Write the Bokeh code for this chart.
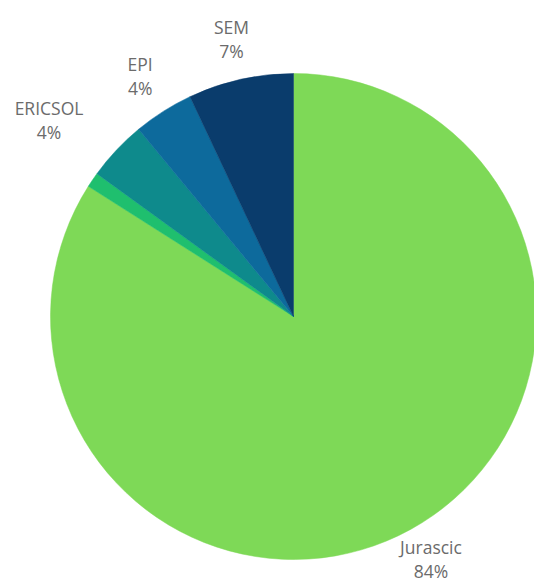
import math
from bokeh.plotting import figure
from bokeh.models import Range1d, ColumnDataSource
from bokeh.core.properties import value
from bokeh.embed import file_html
from bokeh.resources import INLINE

# Data (clockwise from 12 o'clock)
categories = ["Jurascic", "", "ERICSOL", "EPI", "SEM"]
shares = [84, 1, 4, 4, 7]
pct_labels = ["84%", "", "4%", "4%", "7%"]
colors = ["#7ed957", "#1fbf6e", "#0e8a8c", "#0d6a9c", "#0a3c6c"]

W, H = 534, 588
CX, CY = 293, H - 316
R = 243
LABEL_R = 275
# pixel nudges for label placement (dx, dy in screen px, +dy = up)
nudges = [(5, -2), (0, 0), (-44, 8), (-6, 8), (-2, 9)]

total = float(sum(shares))
starts, ends, lx, ly_name, ly_pct, names, pcts = [], [], [], [], [], [], []
cum = 0.0
for cat, v, pl, (ndx, ndy) in zip(categories, shares, pct_labels, nudges):
    a0 = math.pi / 2 - cum / total * 2 * math.pi
    cum += v
    a1 = math.pi / 2 - cum / total * 2 * math.pi
    starts.append(a0)
    ends.append(a1)
    if cat:
        mid = (a0 + a1) / 2
        x = CX + LABEL_R * math.cos(mid) + ndx
        y = CY + LABEL_R * math.sin(mid) + ndy
        lx.append(x)
        ly_name.append(y + 12)
        ly_pct.append(y - 12)
        names.append(cat)
        pcts.append(pl)

src = ColumnDataSource(dict(start=starts, end=ends, color=colors))

p = figure(width=W, height=H, output_backend="svg", toolbar_location=None,
           x_range=Range1d(0, W), y_range=Range1d(0, H), min_border=0)
p.axis.visible = False
p.grid.visible = False
p.outline_line_color = None
p.background_fill_color = "white"
p.border_fill_color = "white"

p.wedge(x=CX, y=CY, radius=R, radius_units="data", start_angle="start", end_angle="end",
        direction="clock", fill_color="color", line_color="color", line_width=0.5, source=src)

p.text(x=lx, y=ly_name, text=names, text_align="center", text_baseline="middle",
       text_font=value("Open Sans"), text_font_size="17.5px", text_color="#6b6b6b")
p.text(x=lx, y=ly_pct, text=pcts, text_align="center", text_baseline="middle",
       text_font=value("Open Sans"), text_font_size="17.5px", text_color="#6b6b6b")

open("out.html", "w").write(file_html(p, INLINE))
